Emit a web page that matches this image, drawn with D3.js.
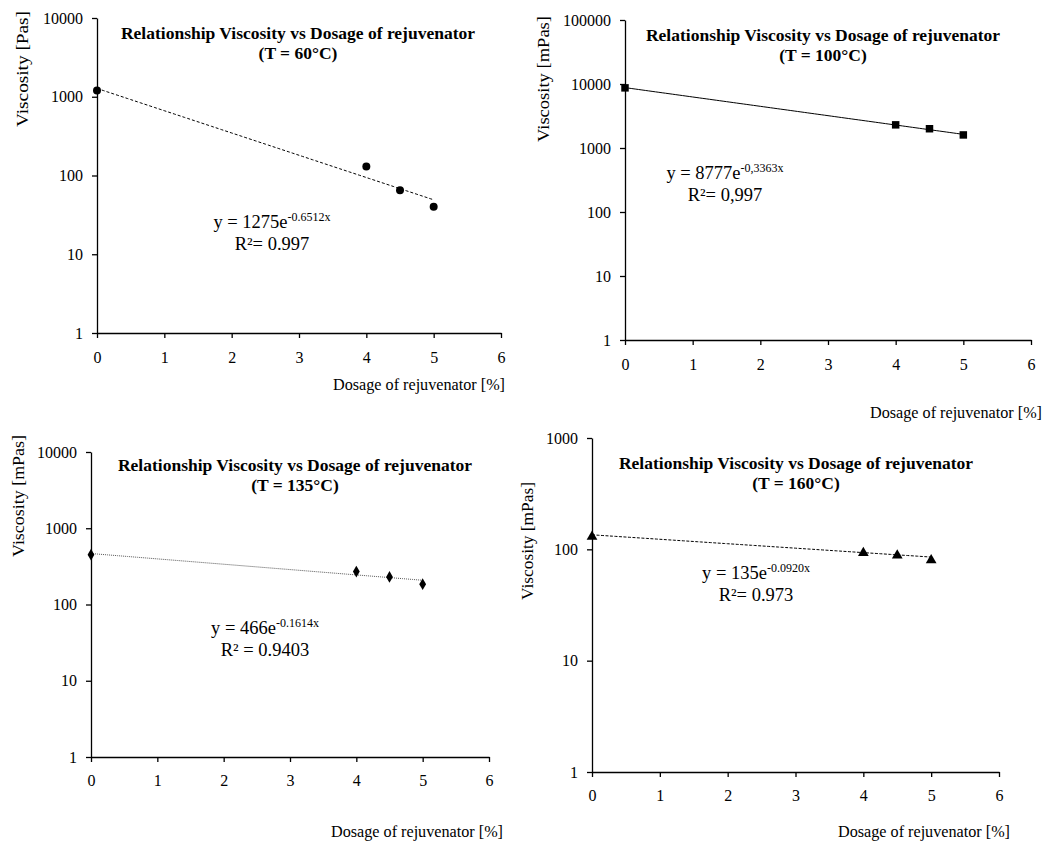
<!DOCTYPE html>
<html>
<head>
<meta charset="utf-8">
<script src="https://cdn.jsdelivr.net/npm/d3@7"></script>
<style>
  body { margin: 0; background: #fff; }
  svg text { fill: #000; }
  .axis path, .axis line { stroke: #000; stroke-width: 1.3; }
</style>
</head>
<body>
<svg id="chart" width="1048" height="841" font-family="'Liberation Serif', 'Times New Roman', Times, 'DejaVu Serif', serif"></svg>
<script>
// data
var dosage = [0, 4, 4.5, 5];
var visc60 = [1200, 130, 65, 40];
var visc100 = [8700, 2300, 2000, 1600];
var visc135 = [450, 270, 230, 185];
var visc160 = [130, 93, 88, 80];

var temps = ["60", "100", "135", "160"];
var units = ["Pas", "mPas", "mPas", "mPas"];
var fitA = [1275, 8777, 466, 135];
var fitB = [-0.6512, -0.3363, -0.1614, -0.0920];
var eqText = [
  ["y = 1275e", "-0.6512x", "R\u00b2= 0.997"],
  ["y = 8777e", "-0,3363x", "R\u00b2= 0,997"],
  ["y = 466e", "-0.1614x", "R\u00b2 = 0.9403"],
  ["y = 135e", "-0.0920x", "R\u00b2= 0.973"]
];
var yMax = [10000, 100000, 10000, 1000];
var xTicks = [0, 1, 2, 3, 4, 5, 6];

var FONT = "'Liberation Serif', 'Times New Roman', Times, 'DejaVu Serif', serif";
var svg = d3.select("#chart");

var panels = [
  {vals: visc60, left: 97, right: 501, top: 18, bottom: 333, marker: "circle", line: "3,2",
   ylab: [22, 69, 116], title: [298, 39], eq: [272, 228], xlab: [505, 390], tickY: 358},
  {vals: visc100, left: 625, right: 1031, top: 20, bottom: 340, marker: "square", line: null,
   ylab: [543, 79, 126], title: [823, 41], eq: [725, 179], xlab: [1042, 418], tickY: 365},
  {vals: visc135, left: 91, right: 489, top: 452, bottom: 757, marker: "diamond", line: "1,1",
   ylab: [18, 496, 122], title: [295, 471], eq: [265, 634], xlab: [503, 837], tickY: 781},
  {vals: visc160, left: 592, right: 999, top: 438, bottom: 772, marker: "triangle", line: "3,1.5",
   ylab: [527, 541, 118], title: [796, 469], eq: [756, 579], xlab: [1010, 837], tickY: 796}
];

panels.forEach(function(p, i) {
    var g = svg.append("g");

    var x = d3.scaleLinear().domain([0, 6]).range([p.left, p.right]);
    var y = d3.scaleLog().domain([1, yMax[i]]).range([p.bottom, p.top]);

    var yTicks = [];
    for (var v = 1; v <= yMax[i]; v *= 10) yTicks.push(v);

    g.append("g")
        .attr("class", "axis")
        .attr("transform", "translate(0," + p.bottom + ")")
        .call(d3.axisBottom(x).tickValues(xTicks).tickFormat(d3.format("d"))
            .tickSize(5).tickSizeOuter(0).tickPadding(p.tickY - p.bottom - 11))
        .attr("font-family", FONT).attr("font-size", 16);

    g.append("g")
        .attr("class", "axis")
        .attr("transform", "translate(" + p.left + ",0)")
        .call(d3.axisLeft(y).tickValues(yTicks).tickFormat(d3.format("d"))
            .tickSize(5).tickSizeOuter(0).tickPadding(9))
        .attr("font-family", FONT).attr("font-size", 16);

    // trend line
    var fx = d3.range(0, 5.001, 0.05);
    var line = d3.line()
        .x(function(d) { return x(d); })
        .y(function(d) { return y(fitA[i] * Math.exp(fitB[i] * d)); });
    g.append("path")
        .datum(fx)
        .attr("d", line)
        .attr("fill", "none")
        .attr("stroke", i === 2 ? "#555" : "#000")
        .attr("stroke-width", 1)
        .attr("stroke-dasharray", p.line);

    // markers
    var symType = {circle: d3.symbolCircle, square: d3.symbolSquare, diamond: d3.symbolDiamond, triangle: d3.symbolTriangle}[p.marker];
    var symSize = {circle: 50, square: 56, diamond: 40, triangle: 50}[p.marker];
    g.selectAll(".pt")
        .data(dosage)
        .enter().append("path")
        .attr("class", "pt")
        .attr("transform", function(d, j) { return "translate(" + x(d) + "," + y(p.vals[j]) + ")"; })
        .attr("d", d3.symbol().type(symType).size(symSize))
        .attr("fill", "#000");

    // title
    var t = g.append("text")
        .attr("x", p.title[0]).attr("y", p.title[1])
        .attr("text-anchor", "middle")
        .attr("font-size", 17.5).attr("font-weight", "bold");
    t.append("tspan").attr("x", p.title[0]).text("Relationship Viscosity vs Dosage of rejuvenator");
    t.append("tspan").attr("x", p.title[0]).attr("dy", 20).text("(T = " + temps[i] + "\u00b0C)");

    // y label
    g.append("text")
        .attr("transform", "translate(" + p.ylab[0] + "," + p.ylab[1] + ")rotate(-90)")
        .attr("text-anchor", "middle")
        .attr("dy", "0.35em")
        .attr("font-size", 17)
        .attr("textLength", p.ylab[2])
        .attr("lengthAdjust", "spacingAndGlyphs")
        .text("Viscosity [" + units[i] + "]");

    // x label
    g.append("text")
        .attr("x", p.xlab[0]).attr("y", p.xlab[1])
        .attr("text-anchor", "end")
        .attr("font-size", 16)
        .attr("textLength", 172)
        .attr("lengthAdjust", "spacingAndGlyphs")
        .text("Dosage of rejuvenator [%]");

    // equation
    var eq = g.append("text")
        .attr("x", p.eq[0]).attr("y", p.eq[1])
        .attr("text-anchor", "middle")
        .attr("font-size", 18.5);
    eq.append("tspan").text(eqText[i][0]);
    eq.append("tspan").attr("dy", -7).attr("font-size", 12).text(eqText[i][1]);
    g.append("text")
        .attr("x", p.eq[0]).attr("y", p.eq[1] + 22)
        .attr("text-anchor", "middle")
        .attr("font-size", 18.5)
        .text(eqText[i][2]);
});
</script>
</body>
</html>
